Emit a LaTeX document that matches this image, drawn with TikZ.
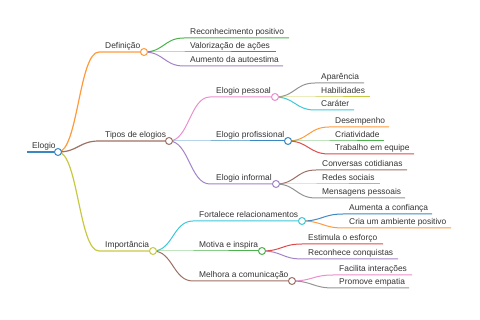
\documentclass[tikz,border=0pt]{standalone}
\usepackage{fontspec}
\setmainfont{Liberation Sans}
\definecolor{cblue}{HTML}{3A88C2}
\definecolor{corange}{HTML}{FF9A3C}
\definecolor{cgreen}{HTML}{4CB24C}
\definecolor{cred}{HTML}{DC4A4B}
\definecolor{cpurple}{HTML}{A383C8}
\definecolor{cbrown}{HTML}{9D7166}
\definecolor{cpink}{HTML}{EA8FCD}
\definecolor{cgrey}{HTML}{949494}
\definecolor{colive}{HTML}{C8C943}
\definecolor{ccyan}{HTML}{3CC8D6}
\definecolor{txt}{HTML}{333333}
\begin{document}
\begin{tikzpicture}[x=1pt,y=-1pt,
  lbl/.style={font=\fontsize{8.4}{10}\selectfont, text=txt, anchor=base west, inner sep=0pt},
  dot/.style={circle, draw, fill=white, minimum size=7pt, inner sep=0pt, line width=1pt},
  edge/.style={line width=1pt},
  link/.style={edge}]
\useasboundingbox (0,0) rectangle (480,320);
% ---------- coordinates ----------
% root
\coordinate (rootS) at (27,152);
\coordinate (rootP) at (58,152);
% level 1
\coordinate (defS) at (99,52);   \coordinate (defP) at (144,52);
\coordinate (tipS) at (99,141);  \coordinate (tipP) at (169,141);
\coordinate (impS) at (99,251);  \coordinate (impP) at (153,251);
% Definicao children
\coordinate (recS) at (184,38);  \coordinate (recE) at (289,38);
\coordinate (valS) at (184,52);  \coordinate (valE) at (276,52);
\coordinate (aumS) at (184,66);  \coordinate (aumE) at (283,66);
% Tipos children
\coordinate (pesS) at (210,97);  \coordinate (pesP) at (275,97);
\coordinate (proS) at (210,141); \coordinate (proP) at (288,141);
\coordinate (infS) at (210,184); \coordinate (infP) at (276,184);
% pessoal children
\coordinate (apaS) at (315,83);  \coordinate (apaE) at (364,83);
\coordinate (habS) at (315,97);  \coordinate (habE) at (370,97);
\coordinate (carS) at (315,110); \coordinate (carE) at (354,110);
% profissional children
\coordinate (desS) at (329,127); \coordinate (desE) at (389,127);
\coordinate (criS) at (329,141); \coordinate (criE) at (384,141);
\coordinate (traS) at (329,154); \coordinate (traE) at (414,154);
% informal children
\coordinate (conS) at (316,170); \coordinate (conE) at (407,170);
\coordinate (redS) at (316,184); \coordinate (redE) at (380,184);
\coordinate (menS) at (316,198); \coordinate (menE) at (405,198);
% Importancia children
\coordinate (forS) at (193,221); \coordinate (forP) at (302,221);
\coordinate (motS) at (193,251); \coordinate (motP) at (262,251);
\coordinate (melS) at (193,281); \coordinate (melP) at (292,281);
% Fortalece children
\coordinate (cfS) at (343,214);  \coordinate (cfE) at (432,214);
\coordinate (amS) at (343,228);  \coordinate (amE) at (451,228);
% Motiva children
\coordinate (esS) at (302,244);  \coordinate (esE) at (383,244);
\coordinate (rcS) at (302,259);  \coordinate (rcE) at (398,259);
% Melhora children
\coordinate (faS) at (333,275);  \coordinate (faE) at (412,275);
\coordinate (emS) at (333,288);  \coordinate (emE) at (409,288);

% ---------- connectors (curve + underline) ----------
\draw[edge, cblue, line width=1.6pt] (rootS) -- (rootP);
\draw[link, corange, line width=1.2pt] (rootP) .. controls +(20,0) and +(-20,0) .. (defS) -- (defP);
\draw[link, cbrown, line width=1.2pt] (rootP) .. controls +(20,0) and +(-20,0) .. (tipS) -- (tipP);
\draw[link, colive, line width=1.2pt] (rootP) .. controls +(20,0) and +(-20,0) .. (impS) -- (impP);

\draw[link, cgreen] (defP) .. controls +(20,0) and +(-20,0) .. (recS) -- (recE);
\draw[link, cred] (defP) .. controls +(20,0) and +(-20,0) .. (valS) -- (valE);
\draw[link, cpurple] (defP) .. controls +(20,0) and +(-20,0) .. (aumS) -- (aumE);

\draw[link, cpink] (tipP) .. controls +(20,0) and +(-20,0) .. (pesS) -- (pesP);
\draw[link, cblue] (tipP) .. controls +(20,0) and +(-20,0) .. (proS) -- (proP);
\draw[link, cpurple] (tipP) .. controls +(20,0) and +(-20,0) .. (infS) -- (infP);

\draw[link, cgrey] (pesP) .. controls +(20,0) and +(-20,0) .. (apaS) -- (apaE);
\draw[link, colive] (pesP) .. controls +(20,0) and +(-20,0) .. (habS) -- (habE);
\draw[link, ccyan] (pesP) .. controls +(20,0) and +(-20,0) .. (carS) -- (carE);

\draw[link, corange] (proP) .. controls +(20,0) and +(-20,0) .. (desS) -- (desE);
\draw[link, cgreen] (proP) .. controls +(20,0) and +(-20,0) .. (criS) -- (criE);
\draw[link, cred] (proP) .. controls +(20,0) and +(-20,0) .. (traS) -- (traE);

\draw[link, cbrown] (infP) .. controls +(20,0) and +(-20,0) .. (conS) -- (conE);
\draw[link, cpink] (infP) .. controls +(20,0) and +(-20,0) .. (redS) -- (redE);
\draw[link, cgrey] (infP) .. controls +(20,0) and +(-20,0) .. (menS) -- (menE);

\draw[link, ccyan] (impP) .. controls +(20,0) and +(-20,0) .. (forS) -- (forP);
\draw[link, cgreen] (impP) .. controls +(20,0) and +(-20,0) .. (motS) -- (motP);
\draw[link, cbrown] (impP) .. controls +(20,0) and +(-20,0) .. (melS) -- (melP);

\draw[link, cblue] (forP) .. controls +(20,0) and +(-20,0) .. (cfS) -- (cfE);
\draw[link, corange] (forP) .. controls +(20,0) and +(-20,0) .. (amS) -- (amE);

\draw[link, cred] (motP) .. controls +(20,0) and +(-20,0) .. (esS) -- (esE);
\draw[link, cpurple] (motP) .. controls +(20,0) and +(-20,0) .. (rcS) -- (rcE);

\draw[link, cpink] (melP) .. controls +(20,0) and +(-20,0) .. (faS) -- (faE);
\draw[link, cgrey] (melP) .. controls +(20,0) and +(-20,0) .. (emS) -- (emE);

% ---------- circles ----------
\node[dot, draw=cblue] (rootC) at (rootP) {};
\node[dot, draw=corange] (defC) at (defP) {};
\node[dot, draw=cbrown] (tipC) at (tipP) {};
\node[dot, draw=colive] (impC) at (impP) {};
\node[dot, draw=cpink] (pesC) at (pesP) {};
\node[dot, draw=cblue] (proC) at (proP) {};
\node[dot, draw=cpurple] (infC) at (infP) {};
\node[dot, draw=ccyan] (forC) at (forP) {};
\node[dot, draw=cgreen] (motC) at (motP) {};
\node[dot, draw=cbrown] (melC) at (melP) {};

% ---------- labels ----------
\node[lbl] (rootT) at ([shift={(5,-3)}]rootS) {Elogio};
\node[lbl] (defT) at ([shift={(6,-3)}]defS) {Definição};
\node[lbl] (tipT) at ([shift={(6,-3)}]tipS) {Tipos de elogios};
\node[lbl] (impT) at ([shift={(6,-3)}]impS) {Importância};
\node[lbl] (recT) at ([shift={(6,-3)}]recS) {Reconhecimento positivo};
\node[lbl] (valT) at ([shift={(6,-3)}]valS) {Valorização de ações};
\node[lbl] (aumT) at ([shift={(6,-3)}]aumS) {Aumento da autoestima};
\node[lbl] (pesT) at ([shift={(6,-3)}]pesS) {Elogio pessoal};
\node[lbl] (proT) at ([shift={(6,-3)}]proS) {Elogio profissional};
\node[lbl] (infT) at ([shift={(6,-3)}]infS) {Elogio informal};
\node[lbl] (apaT) at ([shift={(6,-3)}]apaS) {Aparência};
\node[lbl] (habT) at ([shift={(6,-3)}]habS) {Habilidades};
\node[lbl] (carT) at ([shift={(6,-3)}]carS) {Caráter};
\node[lbl] (desT) at ([shift={(6,-3)}]desS) {Desempenho};
\node[lbl] (criT) at ([shift={(6,-3)}]criS) {Criatividade};
\node[lbl] (traT) at ([shift={(6,-3)}]traS) {Trabalho em equipe};
\node[lbl] (conT) at ([shift={(6,-3)}]conS) {Conversas cotidianas};
\node[lbl] (redT) at ([shift={(6,-3)}]redS) {Redes sociais};
\node[lbl] (menT) at ([shift={(6,-3)}]menS) {Mensagens pessoais};
\node[lbl] (forT) at ([shift={(6,-3)}]forS) {Fortalece relacionamentos};
\node[lbl] (motT) at ([shift={(6,-3)}]motS) {Motiva e inspira};
\node[lbl] (melT) at ([shift={(6,-3)}]melS) {Melhora a comunicação};
\node[lbl] (cfT) at ([shift={(6,-3)}]cfS) {Aumenta a confiança};
\node[lbl] (amT) at ([shift={(6,-3)}]amS) {Cria um ambiente positivo};
\node[lbl] (esT) at ([shift={(6,-3)}]esS) {Estimula o esforço};
\node[lbl] (rcT) at ([shift={(6,-3)}]rcS) {Reconhece conquistas};
\node[lbl] (faT) at ([shift={(6,-3)}]faS) {Facilita interações};
\node[lbl] (emT) at ([shift={(6,-3)}]emS) {Promove empatia};
\end{tikzpicture}
\end{document}
